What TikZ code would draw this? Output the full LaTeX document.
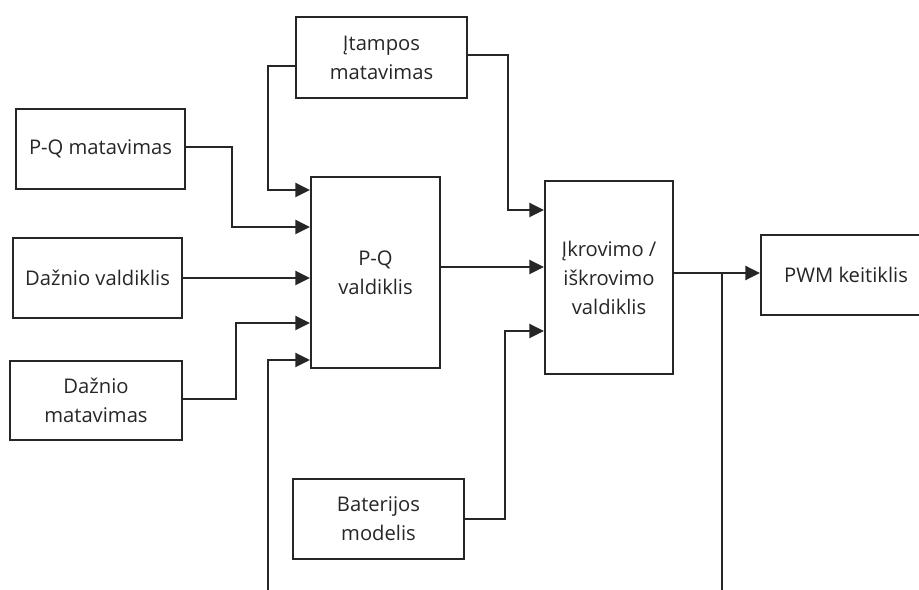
\documentclass[tikz,border=0pt]{standalone}
\usepackage{fontspec}
\setmainfont{Open Sans}
\usetikzlibrary{arrows.meta,positioning}
\tikzstyle{conn} = [line width=1.3pt,draw=black!85,-{Triangle[length=0.29cm,width=0.28cm]}]
\tikzstyle{wire} = [line width=1.3pt,draw=black!85]

\begin{document}
\begin{tikzpicture}[x=0.02cm,y=-0.02cm,every node/.style={shape=rectangle,draw=black!85,line width=1.3pt,align=center,text=black!85,font=\fontsize{11.5}{16.5}\selectfont},]
    \useasboundingbox (0,0) rectangle (919,590);
    % create the nodes
    \node (volt) at (381.5,57.5) [minimum width=3.42cm, minimum height=1.62cm] {Įtampos\\matavimas};
    \node (pqm) at (100.5,149) [minimum width=3.38cm, minimum height=1.6cm] {P-Q matavimas};
    \node (fctrl) at (97.5,278) [minimum width=3.38cm, minimum height=1.6cm] {Dažnio valdiklis};
    \node (fmeas) at (96,400.5) [minimum width=3.44cm, minimum height=1.58cm] {Dažnio\\matavimas};
    \node (pqc) at (375.5,272.5) [minimum width=2.58cm, minimum height=3.82cm] {P-Q\\valdiklis};
    \node (chg) at (609,277.5) [minimum width=2.56cm, minimum height=3.86cm] {Įkrovimo /\\iškrovimo\\valdiklis};
    \node (pwm) at (846,275) [minimum width=3.4cm, minimum height=1.6cm] {PWM keitiklis};
    \node (bat) at (378.5,519) [minimum width=3.42cm, minimum height=1.6cm] {Baterijos\\modelis};
    \coordinate (fbl) at (268,590);
    \coordinate (fbr) at (722,590);
    \coordinate (tap) at (722,273);
    % connect the nodes
    \draw[conn] (volt.west |- 0,66) -| (268,190) -- (pqc.west |- 0,190);
    \draw[conn] (pqm.east |- 0,147) -| (232,227) -- (pqc.west |- 0,227);
    \draw[conn] (fctrl.east) -- (pqc.west |- fctrl.east);
    \draw[conn] (fmeas.east |- 0,399) -| (236,323) -- (pqc.west |- 0,323);
    \draw[conn] (fbl) |- (pqc.west |- 0,360);
    \draw[conn] (volt.east |- 0,55) -| (508,210) -- (chg.west |- 0,210);
    \draw[conn] (pqc.east |- 0,267) -- (chg.west |- 0,267);
    \draw[conn] (bat.east) -| (505,331) -- (chg.west |- 0,331);
    \draw[conn] (chg.east |- tap) -- (pwm.west |- tap);
    \draw[wire] (tap) -- (fbr);
\end{tikzpicture}
\end{document}
